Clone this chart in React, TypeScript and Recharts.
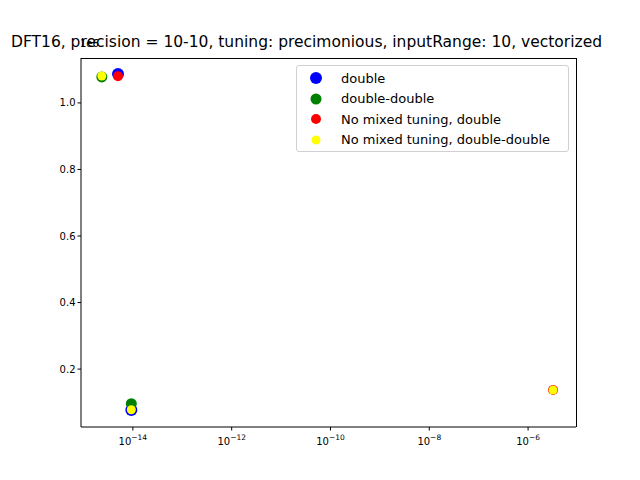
import React from 'react';
import { ScatterChart, Scatter, XAxis, YAxis } from 'recharts';

// y values in raw units (axis shows them divided by 1e6)
const doubleData = [
  { x: 5.0e-15, y: 1087000 },
  { x: 9.3e-15, y: 77000 },
];
const doubleDoubleData = [
  { x: 2.35e-15, y: 1078000 },
  { x: 9.3e-15, y: 96000 },
];
const noMixedDouble = [
  { x: 5.0e-15, y: 1080000 },
  { x: 3.2e-6, y: 137000 },
];
const noMixedDoubleDouble = [
  { x: 2.35e-15, y: 1081000 },
  { x: 9.3e-15, y: 78000 },
  { x: 3.2e-6, y: 137000 },
];
const xTicks = [1e-14, 1e-12, 1e-10, 1e-8, 1e-6];
const yTicks = [200000, 400000, 600000, 800000, 1000000];

const legendItems = [
  { name: 'double', color: 'blue', r: 6 },
  { name: 'double-double', color: 'green', r: 5.5 },
  { name: 'No mixed tuning, double', color: 'red', r: 5 },
  { name: 'No mixed tuning, double-double', color: 'yellow', r: 4.5 },
];

const dot = (color: string, r: number) => (props: any) => (
  <circle cx={props.cx} cy={props.cy} r={r} fill={color} />
);

const XTick = (props: any) => {
  const { x, y, payload } = props;
  const exp = Math.round(Math.log10(payload.value));
  return (
    <g>
      <text x={x} y={y + 12} textAnchor="middle" fontSize={10} fill="#000">
        10<tspan dy={-5} fontSize={7.5}>{`\u2212${Math.abs(exp)}`}</tspan>
      </text>
    </g>
  );
};

const font = 'DejaVu Sans, sans-serif';

export default function App() {
  return (
    <div style={{ position: 'relative', width: 640, height: 480, margin: -8, background: '#fff', fontFamily: font, overflow: 'hidden' }}>
      <ScatterChart width={640} height={480} margin={{ top: 58, right: 64, bottom: 23, left: 41 }}>
        <XAxis
          type="number"
          dataKey="x"
          scale="log"
          domain={[Math.pow(10, -15.05), Math.pow(10, -5.03)]}
          ticks={xTicks}
          tick={<XTick />}
          tickSize={3.5}
          tickLine={{ stroke: '#000' }}
          height={30}
          allowDataOverflow
          axisLine={{ stroke: '#000' }}
        />
        <YAxis
          type="number"
          dataKey="y"
          domain={[26000, 1135000]}
          ticks={yTicks}
          width={40}
          tickSize={3.5}
          tickLine={{ stroke: '#000' }}
          axisLine={{ stroke: '#000' }}
          tick={{ fontSize: 10, fill: '#000' }}
          tickFormatter={(v: number) => (v / 1e6).toFixed(1)}
          allowDataOverflow
        />
        <Scatter data={doubleData} shape={dot('blue', 6)} isAnimationActive={false} />
        <Scatter data={doubleDoubleData} shape={dot('green', 5.5)} isAnimationActive={false} />
        <Scatter data={noMixedDouble} shape={dot('red', 5)} isAnimationActive={false} />
        <Scatter data={noMixedDoubleDouble} shape={dot('yellow', 4.5)} isAnimationActive={false} />
      </ScatterChart>
      {/* right and top frame */}
      <div style={{ position: 'absolute', left: 81, top: 58, width: 496, height: 369, border: '1px solid #000', borderLeft: 'none', borderBottom: 'none', boxSizing: 'border-box', pointerEvents: 'none' }} />
      <div style={{ position: 'absolute', left: 80, top: 38, fontSize: 10 }}>1e6</div>
      <div style={{ position: 'absolute', left: 11, top: 33, fontSize: 15.5, whiteSpace: 'nowrap' }}>
        DFT16, precision = 10-10, tuning: precimonious, inputRange: 10, vectorized
      </div>
      <div style={{ position: 'absolute', left: 296, top: 65, width: 273, height: 87, border: '1px solid #d0d0d0', borderRadius: 3, background: 'rgba(255,255,255,0.8)', boxSizing: 'border-box', padding: '2px 0 0 0', fontSize: 13 }}>
        {legendItems.map((it) => (
          <div key={it.name} style={{ display: 'flex', alignItems: 'center', height: 20.5 }}>
            <svg width={34} height={14}>
              <circle cx={19} cy={7} r={it.r} fill={it.color} />
            </svg>
            <span style={{ marginLeft: 10 }}>{it.name}</span>
          </div>
        ))}
      </div>
    </div>
  );
}
